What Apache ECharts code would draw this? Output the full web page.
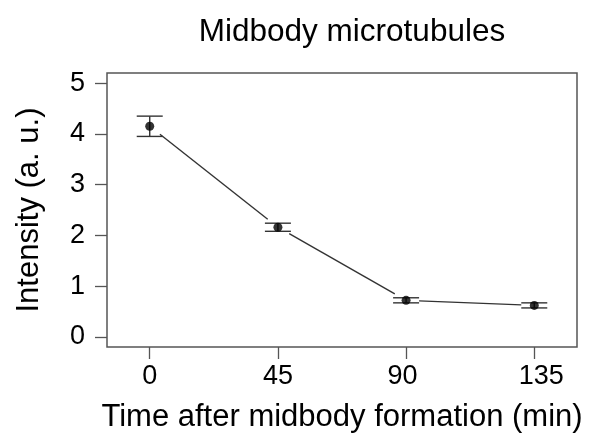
<!DOCTYPE html>
<html>
<head>
<meta charset="utf-8">
<script src="https://cdn.jsdelivr.net/npm/echarts@6/dist/echarts.min.js"></script>
<style>
html,body{margin:0;padding:0;background:#fff;}
#chart{width:597px;height:443px;}
</style>
</head>
<body>
<div id="chart"></div>
<script>
const times = [0, 45, 90, 135];
const means = [4.15, 2.16, 0.72, 0.62];
const errLow = [3.95, 2.08, 0.67, 0.57];
const errHigh = [4.35, 2.24, 0.77, 0.67];
const xTicks = [0, 45, 90, 135];
const yTicks = [0, 1, 2, 3, 4, 5];

const FONT = '"Liberation Sans", Arial, Helvetica, sans-serif';
const INK = '#333';

const segData = [];
for (let i = 0; i < times.length - 1; i++) {
  segData.push([times[i], means[i], times[i + 1], means[i + 1]]);
}
const errData = times.map((t, i) => [t, errLow[i], errHigh[i]]);
const ptData = times.map((t, i) => [t, means[i]]);

const GAP = 13;
const CAP = 13;

const labStyle = {fontFamily: FONT, fontSize: 27, color: '#000'};

const chart = echarts.init(document.getElementById('chart'), null, {renderer: 'canvas'});
chart.setOption({
  animation: false,
  backgroundColor: '#fff',
  title: {
    text: 'Midbody microtubules',
    left: 347,
    textAlign: 'center',
    top: 11,
    textStyle: {fontFamily: FONT, fontSize: 31.5, fontWeight: 'normal', color: '#000'}
  },
  grid: {
    left: 107, right: 20, top: 73, bottom: 96,
    show: true, borderColor: '#555', borderWidth: 1.5, backgroundColor: 'transparent'
  },
  xAxis: {
    type: 'value', min: -15, max: 150,
    name: 'Time after midbody formation (min)',
    nameLocation: 'middle', nameGap: 55,
    nameTextStyle: {fontFamily: FONT, fontSize: 31, color: '#000'},
    axisLine: {show: false, onZero: false},
    splitLine: {show: false},
    axisTick: {show: true, length: 12, customValues: xTicks, lineStyle: {color: '#555', width: 1.3}},
    axisLabel: {
      customValues: xTicks, margin: 16, fontFamily: FONT, fontSize: 27, color: '#000',
      formatter: function (v) {
        if (v === 135) return '{r|' + v + '}';
        if (v === 90) return '{l|' + v + '}';
        return String(v);
      },
      rich: {
        r: Object.assign({padding: [0, 0, 0, 14]}, labStyle),
        l: Object.assign({padding: [0, 7, 0, 0]}, labStyle)
      }
    }
  },
  yAxis: {
    type: 'value', min: -0.2, max: 5.2,
    name: 'Intensity (a. u.)',
    nameLocation: 'middle', nameGap: 62,
    nameTextStyle: {fontFamily: FONT, fontSize: 31, color: '#000'},
    axisLine: {show: false, onZero: false},
    splitLine: {show: false},
    axisTick: {show: true, length: 12, customValues: yTicks, lineStyle: {color: '#555', width: 1.3}},
    axisLabel: {customValues: yTicks, margin: 22, fontFamily: FONT, fontSize: 27, color: '#000'}
  },
  series: [
    {
      type: 'custom',
      data: segData,
      z: 2,
      renderItem: function (params, api) {
        const p0 = api.coord([api.value(0), api.value(1)]);
        const p1 = api.coord([api.value(2), api.value(3)]);
        const dx = p1[0] - p0[0], dy = p1[1] - p0[1];
        const len = Math.sqrt(dx * dx + dy * dy);
        const ux = dx / len, uy = dy / len;
        return {
          type: 'line',
          shape: {x1: p0[0] + ux * GAP, y1: p0[1] + uy * GAP, x2: p1[0] - ux * GAP, y2: p1[1] - uy * GAP},
          style: {stroke: INK, lineWidth: 1.4}
        };
      }
    },
    {
      type: 'custom',
      data: errData,
      z: 3,
      renderItem: function (params, api) {
        const lo = api.coord([api.value(0), api.value(1)]);
        const hi = api.coord([api.value(0), api.value(2)]);
        return {
          type: 'group',
          children: [
            {type: 'line', shape: {x1: lo[0], y1: lo[1], x2: hi[0], y2: hi[1]}, style: {stroke: INK, lineWidth: 1.4}},
            {type: 'line', shape: {x1: lo[0] - CAP, y1: lo[1], x2: lo[0] + CAP, y2: lo[1]}, style: {stroke: INK, lineWidth: 1.4}},
            {type: 'line', shape: {x1: hi[0] - CAP, y1: hi[1], x2: hi[0] + CAP, y2: hi[1]}, style: {stroke: INK, lineWidth: 1.4}}
          ]
        };
      }
    },
    {
      type: 'scatter',
      data: ptData,
      z: 4,
      symbol: 'circle',
      symbolSize: 9,
      itemStyle: {color: '#000'}
    }
  ]
});
</script>
</body>
</html>
